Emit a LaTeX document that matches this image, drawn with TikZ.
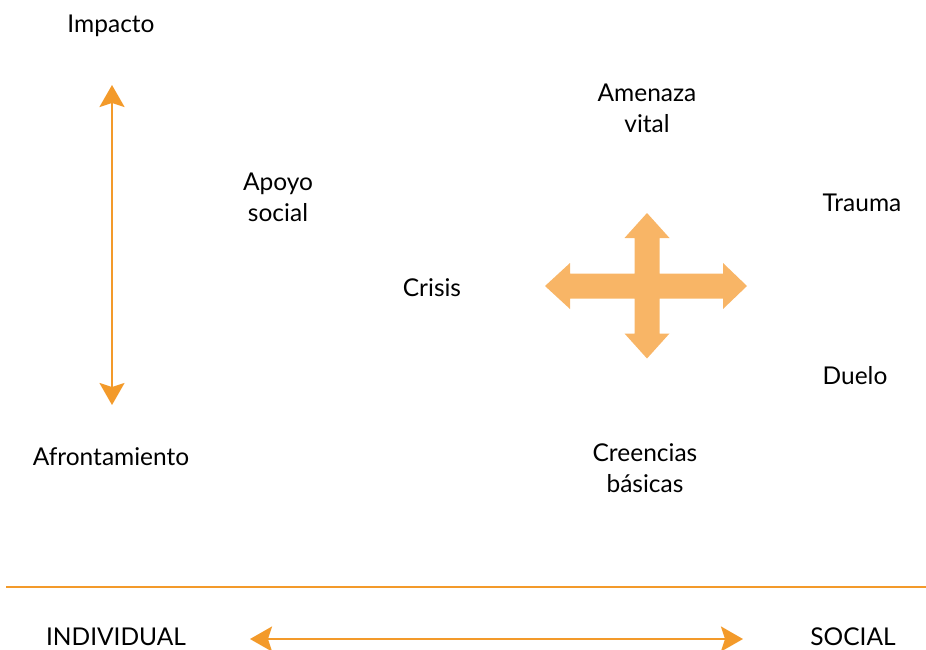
\documentclass[tikz,border=0pt]{standalone}
\usepackage{fontspec}
\setmainfont{Lato}
\usetikzlibrary{arrows.meta}
\definecolor{linecol}{HTML}{F39A2A}
\definecolor{crosscol}{HTML}{F8B566}

\begin{document}
\begin{tikzpicture}[x=1pt,y=-1pt,
		word/.style={align=center,inner sep=0pt,font=\fontsize{24.5}{31}\selectfont},
		axis/.style={draw=linecol,line width=2pt,{Stealth[length=22pt,width=25pt,inset=4pt]}-{Stealth[length=22pt,width=25pt,inset=4pt]}}]
			\useasboundingbox (0,0) rectangle (926,649);
			% words
			\node (impacto) [word] at (111,26) {Impacto};
			\node (afront) [word] at (111,457) {Afrontamiento};
			\node (apoyo) [word] at (278,197) {Apoyo\\social};
			\node (amenaza) [word] at (647,108) {Amenaza\\vital};
			\node (trauma) [word] at (862,203) {Trauma};
			\node (crisis) [word] at (432,288) {Crisis};
			\node (duelo) [word] at (855,376) {Duelo};
			\node (creencias) [word] at (645,468) {Creencias\\básicas};
			\node (indiv) [word] at (116,636.5) {INDIVIDUAL};
			\node (social) [word] at (853,636.5) {SOCIAL};
			% arrows
			\coordinate (up) at (112,85);
			\coordinate (down) at (112,405);
			\draw [axis] (up) -- (down);
			\coordinate (left) at (250,639);
			\coordinate (right) at (743,639);
			\draw [axis] (left) -- (right);
			\coordinate (sepa) at (6,587);
			\coordinate (sepb) at (926,587);
			\draw [linecol,line width=2pt] (sepa) -- (sepb);
			% cross
			\coordinate (mid) at (647,286);
			\fill [crosscol] (mid)
				++(-12.5,-12.5) -- ++(0,-35.5) -- ++(-10,0) -- ++(22.5,-25) -- ++(22.5,25) -- ++(-10,0) -- ++(0,35.5)
				-- ++(63.5,0) -- ++(0,-10.5) -- ++(24,23) -- ++(-24,23) -- ++(0,-10.5)
				-- ++(-63.5,0) -- ++(0,35) -- ++(10,0) -- ++(-22.5,25) -- ++(-22.5,-25) -- ++(10,0) -- ++(0,-35)
				-- ++(-64.5,0) -- ++(0,10.5) -- ++(-25,-23) -- ++(25,-23) -- ++(0,10.5) -- cycle;
		\end{tikzpicture}
\end{document}
